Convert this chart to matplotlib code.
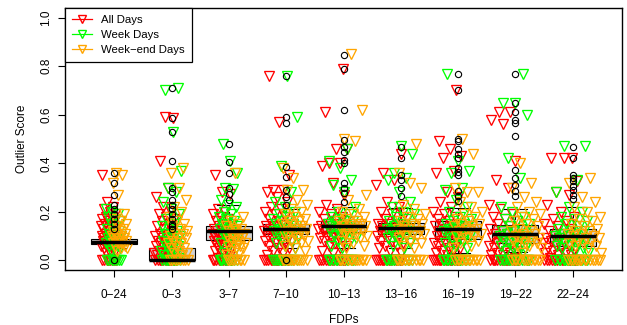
import numpy as np
import matplotlib
matplotlib.use('Agg')
import matplotlib.pyplot as plt
from matplotlib.lines import Line2D

plt.rcParams['font.family'] = ['Liberation Sans', 'DejaVu Sans']

# Categories (FDPs)
fdps = ['0\u221224', '0\u22123', '3\u22127', '7\u221210', '10\u221213',
        '13\u221216', '16\u221219', '19\u221222', '22\u221224']

# Outlier scores per FDP, one list per category
all_days = [
    [0, 0, 0, 0, 0, 0, 0, 0,
     0.03, 0.04, 0.04, 0.05, 0.05, 0.06, 0.06, 0.06, 0.07, 0.07, 0.07, 0.08, 0.08, 0.08, 0.09, 0.09,
     0.09, 0.10, 0.10, 0.10, 0.11, 0.11, 0.12, 0.12, 0.13, 0.13, 0.14, 0.14, 0.15, 0.15, 0.16, 0.16,
     0.17, 0.18, 0.18, 0.19, 0.20, 0.21, 0.22, 0.24, 0.35],
    [0, 0, 0, 0, 0, 0, 0, 0, 0, 0,
     0.01, 0.01, 0.02, 0.02, 0.03, 0.03, 0.04, 0.04, 0.05, 0.05, 0.06, 0.06, 0.07, 0.07, 0.08, 0.08,
     0.09, 0.09, 0.10, 0.10, 0.11, 0.12, 0.13, 0.14, 0.15, 0.16, 0.17, 0.18, 0.19, 0.20, 0.22, 0.26,
     0.30, 0.41, 0.585, 0.59],
    [0, 0, 0, 0, 0, 0, 0, 0, 0, 0,
     0.01, 0.02, 0.03, 0.04, 0.04, 0.05, 0.05, 0.06, 0.06, 0.07, 0.07, 0.08, 0.08, 0.08, 0.09, 0.09,
     0.10, 0.10, 0.10, 0.11, 0.11, 0.12, 0.12, 0.13, 0.13, 0.14, 0.14, 0.15, 0.15, 0.16, 0.17, 0.18,
     0.19, 0.20, 0.21, 0.275, 0.28, 0.35],
    [0, 0, 0, 0, 0, 0, 0, 0, 0, 0, 0, 0, 0, 0,
     0.02, 0.03, 0.04, 0.05, 0.05, 0.06, 0.07, 0.07, 0.08, 0.08, 0.09, 0.09, 0.10, 0.10, 0.11, 0.11,
     0.12, 0.12, 0.13, 0.13, 0.14, 0.14, 0.15, 0.15, 0.16, 0.16, 0.17, 0.18, 0.19, 0.20, 0.21, 0.22,
     0.24, 0.26, 0.28, 0.29, 0.29, 0.35, 0.57, 0.76],
    [0, 0, 0, 0, 0, 0, 0, 0, 0, 0, 0, 0, 0, 0,
     0.03, 0.04, 0.05, 0.06, 0.06, 0.07, 0.08, 0.08, 0.09, 0.09, 0.10, 0.10, 0.11, 0.11, 0.12, 0.12,
     0.12, 0.13, 0.13, 0.13, 0.14, 0.14, 0.14, 0.15, 0.15, 0.16, 0.16, 0.17, 0.18, 0.19, 0.20, 0.21,
     0.23, 0.27, 0.32, 0.39, 0.40, 0.40, 0.46, 0.46, 0.61, 0.79],
    [0, 0, 0, 0, 0, 0, 0, 0, 0, 0, 0, 0, 0, 0,
     0.03, 0.04, 0.05, 0.06, 0.06, 0.07, 0.08, 0.08, 0.09, 0.09, 0.10, 0.10, 0.11, 0.11, 0.12, 0.12,
     0.12, 0.13, 0.13, 0.13, 0.14, 0.14, 0.15, 0.15, 0.16, 0.17, 0.18, 0.19, 0.20, 0.22, 0.24, 0.31,
     0.33, 0.36, 0.44],
    [0, 0, 0, 0, 0, 0, 0, 0, 0, 0, 0, 0, 0, 0, 0, 0,
     0.02, 0.03, 0.04, 0.04, 0.05, 0.05, 0.06, 0.06, 0.07, 0.07, 0.08, 0.08, 0.09, 0.09, 0.10, 0.10,
     0.11, 0.11, 0.12, 0.12, 0.13, 0.13, 0.14, 0.14, 0.15, 0.15, 0.16, 0.17, 0.18, 0.19, 0.20, 0.22,
     0.24, 0.26, 0.28, 0.36, 0.37, 0.42, 0.43, 0.46, 0.49, 0.70],
    [0, 0, 0, 0, 0, 0, 0, 0, 0, 0, 0, 0, 0, 0, 0, 0,
     0.01, 0.02, 0.02, 0.03, 0.03, 0.04, 0.04, 0.05, 0.05, 0.06, 0.06, 0.07, 0.07, 0.08, 0.08, 0.09,
     0.09, 0.10, 0.10, 0.11, 0.11, 0.12, 0.12, 0.13, 0.14, 0.15, 0.16, 0.17, 0.18, 0.19, 0.21, 0.23,
     0.30, 0.33, 0.41, 0.56, 0.58, 0.61, 0.61],
    [0, 0, 0, 0, 0, 0, 0, 0, 0, 0, 0, 0, 0, 0, 0, 0,
     0.01, 0.02, 0.02, 0.03, 0.03, 0.04, 0.04, 0.05, 0.05, 0.06, 0.06, 0.07, 0.07, 0.08, 0.08, 0.09,
     0.09, 0.10, 0.10, 0.11, 0.11, 0.12, 0.13, 0.14, 0.15, 0.16, 0.17, 0.18, 0.20, 0.23, 0.27, 0.28,
     0.325, 0.42, 0.42, 0.42],
]

week_days = [
    [0, 0, 0, 0, 0, 0, 0, 0,
     0.04, 0.05, 0.05, 0.06, 0.06, 0.07, 0.07, 0.07, 0.08, 0.08, 0.08, 0.09, 0.09, 0.10, 0.10, 0.11,
     0.11, 0.12, 0.12, 0.13, 0.14, 0.15, 0.16, 0.17, 0.18, 0.19, 0.20, 0.21],
    [0, 0, 0, 0, 0, 0, 0, 0, 0, 0,
     0.01, 0.02, 0.02, 0.03, 0.04, 0.04, 0.05, 0.06, 0.06, 0.07, 0.08, 0.08, 0.09, 0.10, 0.10, 0.11,
     0.12, 0.13, 0.14, 0.15, 0.17, 0.19, 0.21, 0.24, 0.28, 0.30, 0.37, 0.53, 0.70, 0.71],
    [0, 0, 0, 0, 0, 0, 0, 0, 0, 0,
     0.03, 0.05, 0.06, 0.07, 0.08, 0.09, 0.10, 0.10, 0.11, 0.12, 0.12, 0.13, 0.13, 0.14, 0.14, 0.15,
     0.15, 0.16, 0.17, 0.18, 0.19, 0.20, 0.22, 0.23, 0.25, 0.295, 0.30, 0.36, 0.41, 0.48],
    [0, 0, 0, 0, 0, 0, 0, 0, 0, 0, 0, 0,
     0.05, 0.06, 0.07, 0.08, 0.09, 0.10, 0.10, 0.11, 0.11, 0.12, 0.12, 0.13, 0.13, 0.14, 0.14, 0.15,
     0.15, 0.16, 0.17, 0.18, 0.19, 0.20, 0.22, 0.24, 0.28, 0.39, 0.59, 0.76],
    [0, 0, 0, 0, 0, 0, 0, 0, 0, 0, 0, 0, 0, 0,
     0.05, 0.06, 0.07, 0.08, 0.09, 0.10, 0.10, 0.11, 0.11, 0.12, 0.12, 0.13, 0.13, 0.13, 0.14, 0.14,
     0.14, 0.15, 0.15, 0.16, 0.16, 0.17, 0.18, 0.19, 0.20, 0.22, 0.28, 0.31, 0.33, 0.38, 0.41, 0.46],
    [0, 0, 0, 0, 0, 0, 0, 0, 0, 0, 0, 0,
     0.05, 0.06, 0.07, 0.08, 0.09, 0.10, 0.10, 0.11, 0.11, 0.12, 0.12, 0.13, 0.13, 0.14, 0.14, 0.15,
     0.15, 0.16, 0.17, 0.18, 0.19, 0.20, 0.22, 0.24, 0.28, 0.33, 0.34, 0.36, 0.44, 0.47],
    [0, 0, 0, 0, 0, 0, 0, 0, 0, 0, 0, 0, 0, 0,
     0.04, 0.05, 0.06, 0.07, 0.08, 0.09, 0.10, 0.10, 0.11, 0.11, 0.12, 0.12, 0.13, 0.13, 0.14, 0.14,
     0.15, 0.15, 0.16, 0.17, 0.18, 0.20, 0.22, 0.25, 0.29, 0.30, 0.36, 0.37, 0.41, 0.77],
    [0, 0, 0, 0, 0, 0, 0, 0, 0, 0, 0, 0, 0, 0,
     0.03, 0.04, 0.05, 0.05, 0.06, 0.06, 0.07, 0.07, 0.08, 0.08, 0.09, 0.09, 0.10, 0.10, 0.11, 0.11,
     0.12, 0.12, 0.13, 0.14, 0.15, 0.16, 0.17, 0.18, 0.20, 0.22, 0.34, 0.42, 0.60, 0.65, 0.65, 0.77],
    [0, 0, 0, 0, 0, 0, 0, 0, 0, 0, 0, 0, 0, 0,
     0.03, 0.04, 0.05, 0.05, 0.06, 0.06, 0.07, 0.07, 0.08, 0.08, 0.09, 0.09, 0.10, 0.10, 0.11, 0.11,
     0.12, 0.12, 0.13, 0.14, 0.15, 0.16, 0.17, 0.18, 0.20, 0.22, 0.28, 0.33, 0.47, 0.47],
]

weekend_days = [
    [0.04, 0.05, 0.05, 0.06, 0.06, 0.07, 0.07, 0.07, 0.08, 0.08, 0.08, 0.09, 0.09, 0.09, 0.10, 0.10,
     0.11, 0.11, 0.12, 0.12, 0.13, 0.14, 0.15, 0.16, 0.17, 0.19, 0.27, 0.32, 0.35, 0.36],
    [0, 0, 0, 0, 0, 0, 0, 0,
     0.02, 0.03, 0.03, 0.04, 0.05, 0.05, 0.06, 0.07, 0.07, 0.08, 0.09, 0.09, 0.10, 0.11, 0.11, 0.12,
     0.13, 0.14, 0.15, 0.16, 0.18, 0.20, 0.22, 0.25, 0.30, 0.36, 0.38],
    [0, 0, 0, 0, 0, 0, 0, 0,
     0.02, 0.03, 0.04, 0.05, 0.05, 0.06, 0.06, 0.07, 0.07, 0.08, 0.08, 0.09, 0.09, 0.10, 0.10, 0.11,
     0.11, 0.12, 0.12, 0.13, 0.13, 0.14, 0.15, 0.16, 0.18, 0.36],
    [0, 0, 0, 0, 0, 0, 0, 0, 0, 0, 0, 0,
     0.04, 0.05, 0.06, 0.07, 0.08, 0.08, 0.09, 0.10, 0.10, 0.11, 0.11, 0.12, 0.12, 0.13, 0.13, 0.14,
     0.14, 0.15, 0.15, 0.16, 0.16, 0.17, 0.18, 0.19, 0.20, 0.21, 0.23, 0.25, 0.29, 0.29, 0.34, 0.38],
    [0, 0, 0, 0, 0, 0, 0, 0, 0, 0, 0, 0,
     0.05, 0.06, 0.07, 0.08, 0.09, 0.10, 0.10, 0.11, 0.11, 0.12, 0.12, 0.13, 0.13, 0.13, 0.14, 0.14,
     0.14, 0.15, 0.15, 0.16, 0.16, 0.17, 0.18, 0.19, 0.20, 0.21, 0.25, 0.27, 0.49, 0.50, 0.62, 0.85],
    [0, 0, 0, 0, 0, 0, 0, 0, 0, 0, 0, 0,
     0.05, 0.06, 0.07, 0.08, 0.09, 0.10, 0.10, 0.11, 0.11, 0.12, 0.12, 0.13, 0.13, 0.14, 0.14, 0.15,
     0.15, 0.16, 0.17, 0.18, 0.19, 0.21, 0.23, 0.30, 0.32, 0.36, 0.48],
    [0, 0, 0, 0, 0, 0, 0, 0, 0, 0, 0, 0,
     0.05, 0.06, 0.07, 0.08, 0.09, 0.10, 0.10, 0.11, 0.11, 0.12, 0.12, 0.13, 0.13, 0.14, 0.14, 0.15,
     0.15, 0.16, 0.17, 0.18, 0.19, 0.20, 0.22, 0.24, 0.28, 0.28, 0.30, 0.44, 0.50],
    [0, 0, 0, 0, 0, 0, 0, 0, 0, 0, 0, 0,
     0.03, 0.05, 0.06, 0.06, 0.07, 0.07, 0.08, 0.08, 0.09, 0.09, 0.10, 0.10, 0.11, 0.11, 0.12, 0.12,
     0.13, 0.14, 0.15, 0.16, 0.17, 0.18, 0.19, 0.20, 0.22, 0.24, 0.26, 0.30, 0.32, 0.40],
    [0, 0, 0, 0, 0, 0, 0, 0, 0, 0, 0, 0, 0, 0,
     0.03, 0.05, 0.06, 0.06, 0.07, 0.07, 0.08, 0.08, 0.09, 0.09, 0.10, 0.10, 0.11, 0.11, 0.12, 0.12,
     0.13, 0.14, 0.15, 0.16, 0.17, 0.18, 0.20, 0.22, 0.24, 0.26, 0.32, 0.34],
]

# Box statistics
box_q1 = [0.066, 0.0, 0.083, 0.109, 0.116, 0.110, 0.086, 0.070, 0.060]
box_med = [0.077, 0.003, 0.122, 0.130, 0.140, 0.133, 0.130, 0.110, 0.100]
box_q3 = [0.089, 0.049, 0.143, 0.150, 0.161, 0.154, 0.160, 0.145, 0.130]
box_lo = [0.049, 0.0, 0.010, 0.050, 0.050, 0.050, 0.030, 0.033, 0.020]
box_hi = [0.120, 0.119, 0.230, 0.210, 0.220, 0.215, 0.217, 0.213, 0.220]
box_fliers = [
    [0.0, 0.13, 0.15, 0.17, 0.19, 0.21, 0.23, 0.27, 0.32, 0.36],
    [0.13, 0.14, 0.15, 0.17, 0.19, 0.21, 0.23, 0.25, 0.28, 0.30, 0.41, 0.53, 0.585, 0.71],
    [0.25, 0.275, 0.30, 0.36, 0.405, 0.48],
    [0.0, 0.23, 0.26, 0.288, 0.343, 0.386, 0.567, 0.59, 0.76],
    [0.239, 0.277, 0.298, 0.318, 0.40, 0.414, 0.448, 0.466, 0.496, 0.619, 0.79, 0.848],
    [0.264, 0.298, 0.332, 0.352, 0.42, 0.468],
    [0.243, 0.264, 0.284, 0.35, 0.366, 0.38, 0.42, 0.44, 0.46, 0.49, 0.50, 0.70, 0.77],
    [0.264, 0.284, 0.309, 0.339, 0.373, 0.514, 0.564, 0.58, 0.612, 0.649, 0.77],
    [0.253, 0.27, 0.291, 0.307, 0.325, 0.339, 0.352, 0.423, 0.468],
]

# jitter half-width per group (x units) and series placement
spread = [0.22, 0.29, 0.28, 0.38, 0.42, 0.42, 0.42, 0.45, 0.5]
series = [(all_days, 'red', -0.45, 'All Days'),
          (week_days, '#00FF00', -0.05, 'Week Days'),
          (weekend_days, 'orange', 0.4, 'Week\u2212end Days')]

fig = plt.figure(figsize=(6.27, 3.25), dpi=100)
ax = fig.add_axes([65 / 627, 1 - 270 / 325, 557 / 627, 262 / 325])

stats = []
for i in range(len(fdps)):
    stats.append(dict(med=box_med[i], q1=box_q1[i], q3=box_q3[i],
                      whislo=box_lo[i], whishi=box_hi[i], fliers=box_fliers[i]))
pos = np.arange(1, len(fdps) + 1)
bp = ax.bxp(stats, positions=pos, widths=0.8, patch_artist=True, capwidths=0.4,
            boxprops=dict(facecolor='#D3D3D3', edgecolor='black', linewidth=0.8),
            medianprops=dict(color='black', linewidth=2.5),
            whiskerprops=dict(color='black', linewidth=0.8, linestyle=(0, (3, 2))),
            capprops=dict(color='black', linewidth=0.8),
            flierprops=dict(marker='o', markerfacecolor='none', markeredgecolor='black',
                            markersize=4.5, markeredgewidth=0.8),
            zorder=1)
for m in bp['medians']:
    m.set_zorder(3)
for f in bp['fliers']:
    f.set_zorder(4)

golden = 0.6180339887
for data, col, shift, lab in series:
    for k, vals in enumerate(data):
        w = spread[k]
        idx = np.arange(len(vals))
        u = ((idx * golden + 0.37 * (k + 1)) % 1.0) * 2 - 1
        x = pos[k] + shift * w + 0.6 * w * u
        ax.plot(x, vals, linestyle='none', marker='v', markersize=6.5, markerfacecolor='none',
                markeredgecolor=col, markeredgewidth=0.95, zorder=2)

ax.set_xlim(0.14, 9.86)
ax.set_ylim(-0.04, 1.04)
ax.set_xticks(pos)
ax.set_xticklabels(fdps, fontsize=8.5)
ax.set_yticks([0, 0.2, 0.4, 0.6, 0.8, 1.0])
ax.set_yticklabels(['0.0', '0.2', '0.4', '0.6', '0.8', '1.0'], fontsize=8.5,
                   rotation=90, va='center')
ax.tick_params(axis='both', direction='out', length=5, width=0.8, color='black')
ax.tick_params(axis='x', pad=9)
ax.tick_params(axis='y', pad=4)
for s in ax.spines.values():
    s.set_linewidth(1.0)
    s.set_color('black')
ax.set_xlabel('FDPs', fontsize=8.5, labelpad=9)
ax.set_ylabel('Outlier Score', fontsize=8.5, labelpad=9)

handles = [Line2D([0], [0], color=c, lw=0.9, marker='v', markersize=6, markerfacecolor='none',
                  markeredgecolor=c) for _, c, _, _ in series]
labels = [lab for _, _, _, lab in series]
leg = ax.legend(handles, labels, loc='upper left', bbox_to_anchor=(0, 1), borderaxespad=0,
                fontsize=8.2, fancybox=False, edgecolor='black', framealpha=1,
                handlelength=1.8, handletextpad=0.8, labelspacing=0.45, borderpad=0.6)
leg.get_frame().set_linewidth(0.9)
leg.set_zorder(5)

fig.savefig('out.png', dpi=100)
